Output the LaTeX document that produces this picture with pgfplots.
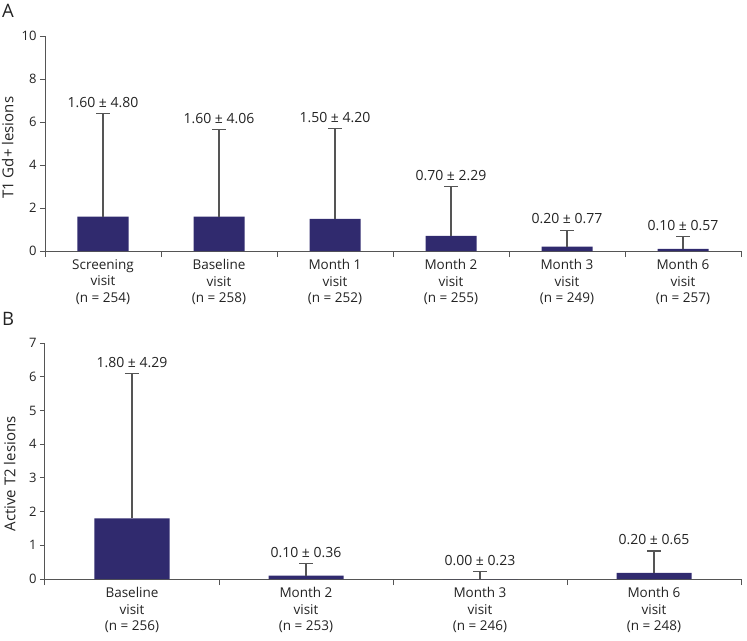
\documentclass[border=0pt]{standalone}
\usepackage{fontspec}
\setmainfont{Open Sans}
\usepackage{pgfplots}
\pgfplotsset{compat=1.18}
\definecolor{barblue}{RGB}{48,42,110}
\definecolor{axisgray}{RGB}{85,85,85}
\definecolor{txt}{RGB}{35,35,35}
\begin{document}
\begin{tikzpicture}
\useasboundingbox (0pt,0pt) rectangle (747pt,-640pt);
\pgfplotsset{common/.style={
  scale only axis, axis lines=left, clip=false,
  axis line style={axisgray, line width=1pt, -},
  tick style={axisgray, line width=1pt}, tick align=outside,
  major tick length=5pt, minor tick length=6pt,
  major x tick style={draw=none},
  font=\fontsize{13}{16.5}\selectfont,
  ticklabel style={text=txt},
  xticklabel style={align=center, font=\fontsize{13.5}{16.5}\selectfont},
  yticklabel style={font=\fontsize{13}{16}\selectfont, /pgf/number format/fixed},
  ylabel style={text=txt, font=\fontsize{15}{17}\selectfont, anchor=center},
  /pgf/number format/assume math mode=true,
}}
\begin{axis}[common, at={(45pt,-251pt)}, anchor=south west,
  width=696pt, height=215pt, xmin=0, xmax=6, ymin=0, ymax=10,
  ytick={0,2,...,10}, xtick={0.5,1.5,...,5.5},
  minor xtick={0,1,...,6},
  xticklabels={{Screening\\visit\\(n = 254)},{Baseline\\visit\\(n = 258)},{Month 1\\visit\\(n = 252)},{Month 2\\visit\\(n = 255)},{Month 3\\visit\\(n = 249)},{Month 6\\visit\\(n = 257)}},
  ylabel={T1 Gd+ lesions},
  ylabel style={at={(axis description cs:-0.0535,0.48)}}]
\addplot[ybar, bar width=51pt, fill=barblue, draw=none,
  error bars/.cd, y dir=plus, y explicit,
  error bar style={axisgray, line width=1.2pt},
  error mark options={rotate=90, axisgray, mark size=7pt, line width=1.2pt}]
  coordinates {(0.5,1.6) +- (0,4.80) (1.5,1.6) +- (0,4.06) (2.5,1.5) +- (0,4.20)
               (3.5,0.7) +- (0,2.29) (4.5,0.2) +- (0,0.77) (5.5,0.1) +- (0,0.57)};
\addplot[draw=none, mark=none, nodes near coords, point meta=explicit symbolic,
  nodes near coords style={anchor=south, text=txt, font=\fontsize{14}{16}\selectfont, yshift=2.5pt}]
  coordinates {(0.5,6.40) [1.60 ± 4.80] (1.5,5.66) [1.60 ± 4.06] (2.5,5.70) [1.50 ± 4.20]
               (3.5,2.99) [0.70 ± 2.29] (4.5,0.97) [0.20 ± 0.77] (5.5,0.67) [0.10 ± 0.57]};
\end{axis}
\begin{axis}[common, at={(45pt,-579pt)}, anchor=south west,
  width=696pt, height=236pt, xmin=0, xmax=4, ymin=0, ymax=7,
  ytick={0,1,...,7}, xtick={0.5,1.5,...,3.5},
  minor xtick={0,1,...,4},
  xticklabels={{Baseline\\visit\\(n = 256)},{Month 2\\visit\\(n = 253)},{Month 3\\visit\\(n = 246)},{Month 6\\visit\\(n = 248)}},
  ylabel={Active T2 lesions},
  ylabel style={at={(axis description cs:-0.0505,0.445)}}]
\addplot[ybar, bar width=75pt, fill=barblue, draw=none,
  error bars/.cd, y dir=plus, y explicit,
  error bar style={axisgray, line width=1.2pt},
  error mark options={rotate=90, axisgray, mark size=7pt, line width=1.2pt}]
  coordinates {(0.5,1.8) +- (0,4.29) (1.5,0.1) +- (0,0.36) (2.5,0.0) +- (0,0.23) (3.5,0.18) +- (0,0.65)};
\addplot[draw=none, mark=none, nodes near coords, point meta=explicit symbolic,
  nodes near coords style={anchor=south, text=txt, font=\fontsize{14}{16}\selectfont, yshift=2.5pt}]
  coordinates {(0.5,6.09) [1.80 ± 4.29] (1.5,0.46) [0.10 ± 0.36] (2.5,0.23) [0.00 ± 0.23] (3.5,0.83) [0.20 ± 0.65]};
\end{axis}
\node[anchor=north west, inner sep=0pt, text=txt, font=\fontsize{18.5}{18.5}\selectfont] at (2pt,-4pt) {A};
\node[anchor=north west, inner sep=0pt, text=txt, font=\fontsize{18.5}{18.5}\selectfont] at (2pt,-312pt) {B};
\end{tikzpicture}
\end{document}
